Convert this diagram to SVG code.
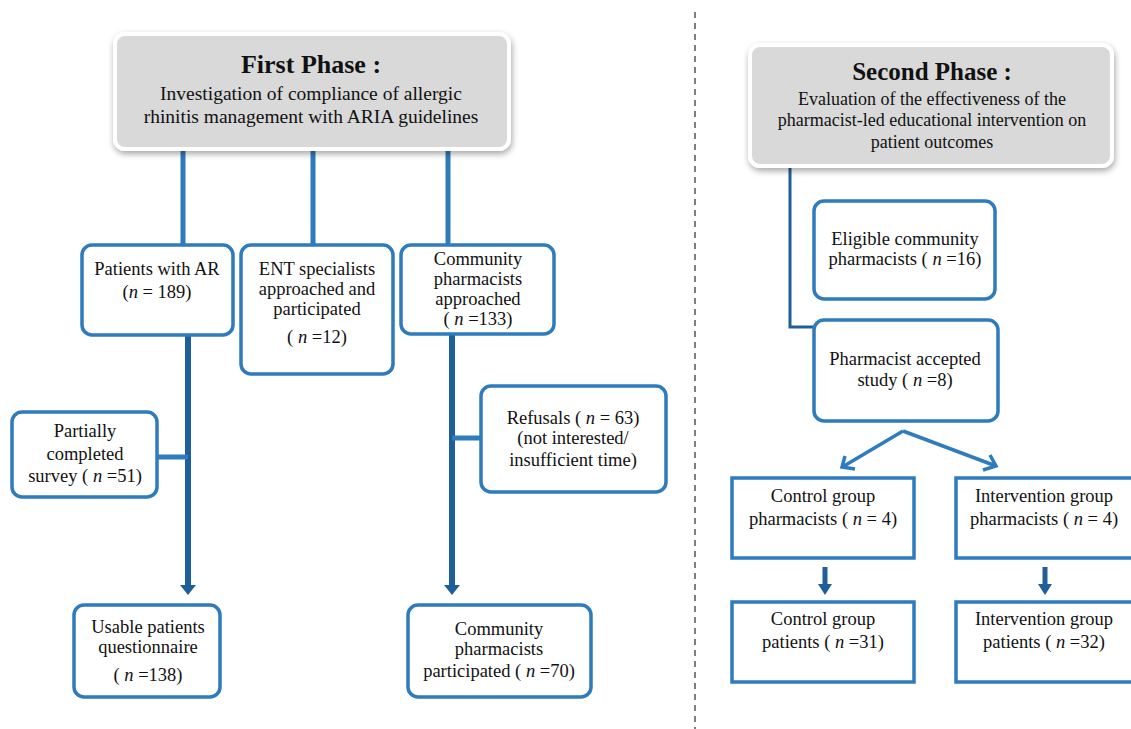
<svg xmlns="http://www.w3.org/2000/svg" width="1131" height="729" viewBox="0 0 1131 729">
<defs>
<style>
text{font-family:"Liberation Serif","Times New Roman",serif;fill:#111;text-anchor:middle}
.t{font-size:18.5px}
.h{font-size:26px;font-weight:bold}
.s{font-size:19.5px}
.s2{font-size:18px}
.box{fill:#fff;stroke:#2e7bbd;stroke-width:3.5}
.phase{fill:#d9d9d9;stroke:#fff;stroke-width:4}
.lc{stroke:#2e7bbd;stroke-width:5;fill:none}
.dk{stroke:#1f5f99;stroke-width:6;fill:none}
.it{font-style:italic}
</style>
<filter id="sh" x="-10%" y="-10%" width="120%" height="130%">
<feDropShadow dx="1" dy="3" stdDeviation="3" flood-color="#000" flood-opacity="0.35"/>
</filter>
</defs>
<rect width="1131" height="729" fill="#fff"/>
<line x1="695" y1="12" x2="695" y2="729" stroke="#555" stroke-width="1.5" stroke-dasharray="6,5"/>

<g id="connectors">
<line class="lc" x1="183" y1="150" x2="183" y2="246"/>
<line class="lc" x1="313" y1="150" x2="313" y2="246"/>
<line class="lc" x1="448" y1="150" x2="448" y2="246"/>
<line class="dk" x1="188" y1="335" x2="188" y2="587"/>
<polygon points="180,585 196,585 188,595" fill="#1f5f99"/>
<line class="lc" x1="157" y1="457" x2="188" y2="457" stroke-width="4"/>
<line class="dk" x1="452" y1="334" x2="452" y2="587"/>
<polygon points="444,585 460,585 452,595" fill="#1f5f99"/>
<line class="lc" x1="452" y1="438" x2="481" y2="438" stroke-width="4"/>
<polyline points="790,167 790,327 813,327" fill="none" stroke="#1f5f99" stroke-width="3"/>
<g stroke="#2e7bbd" stroke-width="3.5" fill="none">
<polyline points="903,431 844,466"/>
<polyline points="845,456 842,467 855,469"/>
<polyline points="903,431 996,466"/>
<polyline points="983,470 996,466 990,455"/>
</g>
<line x1="825" y1="567" x2="825" y2="585" stroke="#1f5f99" stroke-width="5"/>
<polygon points="818,584 832,584 825,595" fill="#1f5f99"/>
<line x1="1045" y1="567" x2="1045" y2="585" stroke="#1f5f99" stroke-width="5"/>
<polygon points="1038,584 1052,584 1045,595" fill="#1f5f99"/>
</g>

<g id="phase1">
<rect class="phase" x="115" y="34" width="394" height="115" rx="10" filter="url(#sh)"/>
<text class="h" x="311" y="73">First Phase :</text>
<text class="s" x="311" y="100">Investigation of compliance  of allergic</text>
<text class="s" x="311" y="123">rhinitis management  with ARIA guidelines</text>
</g>

<g id="patients">
<rect class="box" x="82" y="245" width="151" height="90" rx="10"/>
<text class="t" x="157" y="275">Patients with AR</text>
<text class="t" x="157" y="298">(<tspan class="it">n</tspan> = 189)</text>
</g>

<g id="ent">
<rect class="box" x="241" y="245" width="152" height="129" rx="10"/>
<text class="t" x="317" y="275">ENT specialists</text>
<text class="t" x="317" y="295">approached and</text>
<text class="t" x="317" y="315">participated</text>
<text class="t" x="317" y="343">( <tspan class="it">n</tspan> =12)</text>
</g>

<g id="community">
<rect class="box" x="401" y="245" width="153" height="89" rx="10"/>
<text class="t" x="478" y="265">Community</text>
<text class="t" x="478" y="285">pharmacists</text>
<text class="t" x="478" y="305">approached</text>
<text class="t" x="478" y="325">( <tspan class="it">n</tspan> =133)</text>
</g>

<g id="refusals">
<rect class="box" x="481" y="386" width="185" height="106" rx="10"/>
<text class="t" x="573" y="424">Refusals  ( <tspan class="it">n</tspan> = 63)</text>
<text class="t" x="573" y="444">(not interested/</text>
<text class="t" x="573" y="466">insufficient time)</text>
</g>

<g id="partial">
<rect class="box" x="12" y="412" width="145" height="85" rx="10"/>
<text class="t" x="85" y="437">Partially</text>
<text class="t" x="85" y="460">completed</text>
<text class="t" x="85" y="482">survey ( <tspan class="it">n</tspan> =51)</text>
</g>

<g id="usable">
<rect class="box" x="74" y="605" width="146" height="92" rx="10"/>
<text class="t" x="148" y="633">Usable patients</text>
<text class="t" x="148" y="653">questionnaire</text>
<text class="t" x="148" y="681">( <tspan class="it">n</tspan> =138)</text>
</g>

<g id="participated">
<rect class="box" x="408" y="605" width="183" height="92" rx="10"/>
<text class="t" x="499" y="635">Community</text>
<text class="t" x="499" y="655">pharmacists</text>
<text class="t" x="499" y="677">participated ( <tspan class="it">n</tspan> =70)</text>
</g>

<g id="phase2">
<rect class="phase" x="750" y="45" width="362" height="121" rx="10" filter="url(#sh)"/>
<text class="h" x="932" y="80" style="font-size:25px">Second Phase :</text>
<text class="s2" x="932" y="105">Evaluation of the effectiveness of the</text>
<text class="s2" x="932" y="126">pharmacist-led educational intervention on</text>
<text class="s2" x="932" y="148">patient outcomes</text>
</g>

<g id="eligible">
<rect class="box" x="814" y="201" width="181" height="98" rx="10"/>
<text class="t" x="905" y="245">Eligible community</text>
<text class="t" x="905" y="265">pharmacists ( <tspan class="it">n</tspan> =16)</text>
</g>

<g id="accepted">
<rect class="box" x="814" y="320" width="184" height="101" rx="10"/>
<text class="t" x="905" y="365">Pharmacist accepted</text>
<text class="t" x="905" y="386">study ( <tspan class="it">n</tspan> =8)</text>
</g>

<g id="control-pharm">
<rect class="box" x="732" y="478" width="182" height="80"/>
<text class="t" x="823" y="502">Control  group</text>
<text class="t" x="823" y="525">pharmacists ( <tspan class="it">n</tspan> = 4)</text>
</g>

<g id="intervention-pharm">
<rect class="box" x="956" y="478" width="190" height="80"/>
<text class="t" x="1044" y="502">Intervention  group</text>
<text class="t" x="1044" y="525">pharmacists ( <tspan class="it">n</tspan> = 4)</text>
</g>

<g id="control-pat">
<rect class="box" x="732" y="602" width="182" height="80"/>
<text class="t" x="823" y="625">Control  group</text>
<text class="t" x="823" y="648">patients ( <tspan class="it">n</tspan> =31)</text>
</g>

<g id="intervention-pat">
<rect class="box" x="956" y="602" width="190" height="80"/>
<text class="t" x="1044" y="625">Intervention  group</text>
<text class="t" x="1044" y="648">patients ( <tspan class="it">n</tspan> =32)</text>
</g>
</svg>
